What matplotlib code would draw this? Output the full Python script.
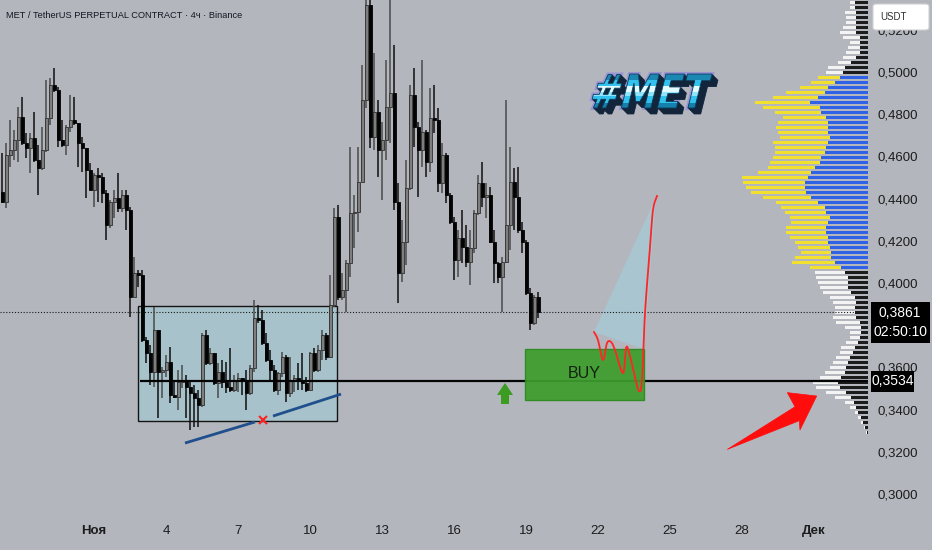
import numpy as np
import matplotlib
matplotlib.use("Agg")
import matplotlib.pyplot as plt
from matplotlib.patches import Rectangle, Polygon, FancyBboxPatch, PathPatch
from matplotlib.textpath import TextPath
from matplotlib.font_manager import FontProperties
from matplotlib.transforms import Affine2D, IdentityTransform, blended_transform_factory

# ---------------- data ----------------
title = "MET / TetherUS PERPETUAL CONTRACT · 4ч · Binance"
first_candle_hour = -92      # hours relative to 1 Nov 00:00
candle_step_h = 4
first_open = 0.4431
closes = [0.4384, 0.4606, 0.4630, 0.4677, 0.4786, 0.4663, 0.4639, 0.4687, 0.4583, 0.4545,
          0.4630, 0.4782, 0.4938, 0.4914, 0.4677, 0.4654, 0.4739, 0.4772, 0.4758, 0.4663,
          0.4639, 0.4535, 0.4440, 0.4511, 0.4502, 0.4426, 0.4274, 0.4384, 0.4402, 0.4355,
          0.4417, 0.4346, 0.3933, 0.4047, 0.4037, 0.3729, 0.3668, 0.3578, 0.3777, 0.3578,
          0.3587, 0.3625, 0.3469, 0.3459, 0.3530, 0.3540, 0.3507, 0.3478, 0.3454, 0.3421,
          0.3753, 0.3620, 0.3668, 0.3526, 0.3578, 0.3530, 0.3507, 0.3492, 0.3540, 0.3549,
          0.3540, 0.3478, 0.3597, 0.3834, 0.3824, 0.3715, 0.3635, 0.3587, 0.3492, 0.3573,
          0.3649, 0.3478, 0.3540, 0.3549, 0.3540, 0.3526, 0.3492, 0.3668, 0.3587, 0.3682,
          0.3753, 0.3649, 0.3895, 0.4312, 0.3933, 0.3966, 0.4094, 0.4331, 0.4336, 0.4478,
          0.4867, 0.5317, 0.4692, 0.4810, 0.4630, 0.4677, 0.4834, 0.4900, 0.4384, 0.4047,
          0.4194, 0.4450, 0.4891, 0.4739, 0.4630, 0.4715, 0.4573, 0.4782, 0.4772, 0.4474,
          0.4606, 0.4417, 0.4289, 0.4109, 0.4213, 0.4170, 0.4099, 0.4165, 0.4331, 0.4474,
          0.4407, 0.4417, 0.4194, 0.4094, 0.4028, 0.4099, 0.4274, 0.4478, 0.4407, 0.4251,
          0.4194, 0.3952, 0.3810, 0.3933, 0.3861]
highs = [0.4616, 0.4663, 0.4772, 0.4725, 0.4834, 0.4881, 0.4711, 0.4711, 0.4810, 0.4654,
         0.4739, 0.4962, 0.4971, 0.5019, 0.4929, 0.4772, 0.4748, 0.4891, 0.4881, 0.4758,
         0.4692, 0.4639, 0.4568, 0.4521, 0.4545, 0.4521, 0.4440, 0.4393, 0.4440, 0.4521,
         0.4440, 0.4440, 0.4360, 0.4123, 0.4061, 0.4061, 0.3744, 0.3706, 0.3886, 0.3777,
         0.3601, 0.3658, 0.3696, 0.3540, 0.3587, 0.3611, 0.3563, 0.3540, 0.3516, 0.3492,
         0.3763, 0.3777, 0.3691, 0.3668, 0.3620, 0.3635, 0.3625, 0.3691, 0.3563, 0.3573,
         0.3549, 0.3587, 0.3611, 0.3919, 0.3895, 0.3872, 0.3763, 0.3682, 0.3611, 0.3578,
         0.3673, 0.3658, 0.3649, 0.3563, 0.3620, 0.3668, 0.3554, 0.3673, 0.3691, 0.3706,
         0.3777, 0.3763, 0.4037, 0.4355, 0.4369, 0.4047, 0.4109, 0.4644, 0.4417, 0.4644,
         0.5033, 0.5483, 0.5436, 0.5090, 0.4867, 0.4763, 0.5057, 0.5388, 0.5128, 0.4474,
         0.4298, 0.4583, 0.4938, 0.5019, 0.4763, 0.5057, 0.4725, 0.4924, 0.4938, 0.4829,
         0.4663, 0.4616, 0.4426, 0.4312, 0.4251, 0.4346, 0.4274, 0.4251, 0.4346, 0.4511,
         0.4573, 0.4474, 0.4455, 0.4251, 0.4099, 0.4123, 0.4867, 0.4644, 0.4545, 0.4549,
         0.4289, 0.4203, 0.3976, 0.3943, 0.3957]
lows = [0.4379, 0.4355, 0.4549, 0.4583, 0.4573, 0.4654, 0.4592, 0.4521, 0.4573, 0.4417,
        0.4535, 0.4621, 0.4748, 0.4905, 0.4644, 0.4644, 0.4606, 0.4715, 0.4748, 0.4549,
        0.4526, 0.4402, 0.4440, 0.4360, 0.4384, 0.4379, 0.4203, 0.4260, 0.4308, 0.4336,
        0.4336, 0.4251, 0.3838, 0.3933, 0.3981, 0.3720, 0.3620, 0.3516, 0.3507, 0.3360,
        0.3454, 0.3554, 0.3431, 0.3454, 0.3398, 0.3502, 0.3360, 0.3303, 0.3317, 0.3317,
        0.3412, 0.3611, 0.3611, 0.3516, 0.3454, 0.3502, 0.3478, 0.3483, 0.3483, 0.3483,
        0.3469, 0.3398, 0.3469, 0.3578, 0.3810, 0.3706, 0.3625, 0.3540, 0.3483, 0.3469,
        0.3554, 0.3436, 0.3459, 0.3483, 0.3492, 0.3492, 0.3483, 0.3507, 0.3578, 0.3578,
        0.3635, 0.3635, 0.3644, 0.3886, 0.3919, 0.3919, 0.3862, 0.4028, 0.4165, 0.4241,
        0.4478, 0.4829, 0.4639, 0.4630, 0.4502, 0.4393, 0.4583, 0.4663, 0.4346, 0.3905,
        0.4004, 0.4085, 0.4440, 0.4644, 0.4407, 0.4549, 0.4502, 0.4526, 0.4711, 0.4431,
        0.4426, 0.4379, 0.4279, 0.4014, 0.4028, 0.4094, 0.4075, 0.3990, 0.4142, 0.4322,
        0.4360, 0.4308, 0.4189, 0.4000, 0.4000, 0.3862, 0.4094, 0.4156, 0.4251, 0.4237,
        0.4142, 0.3943, 0.3777, 0.3800, 0.3834]

last_price = 0.3861
countdown = "02:50:10"
support_level = 0.3534

x_tick_hours = [0, 72, 144, 216, 288, 360, 432, 504, 576, 648, 720]
x_tick_labels = ["Ноя", "4", "7", "10", "13", "16", "19", "22", "25", "28", "Дек"]
y_ticks = [0.30, 0.32, 0.34, 0.36, 0.38, 0.40, 0.42, 0.44, 0.46, 0.48, 0.50, 0.52]
y_hidden = [0.38]   # tick label fully covered by the last-price badge

# volume profile (rows from top price downward)
profile_top = 0.5329
profile_step = 0.00237
profile_total = [18, 18, 23, 22, 22, 25, 28, 25, 18, 20,
                 22, 25, 30, 40, 42, 50, 57, 68, 82, 95,
                 113, 105, 93, 85, 90, 92, 90, 88, 95, 93,
                 93, 95, 98, 100, 110, 126, 125, 122, 117, 105,
                 92, 87, 83, 78, 77, 82, 82, 78, 73, 70,
                 67, 73, 76, 58, 53, 52, 50, 48, 45, 38,
                 35, 33, 33, 35, 32, 23, 18, 18, 22, 27,
                 28, 32, 35, 38, 43, 48, 55, 52, 42, 33,
                 23, 18, 13, 10, 7, 4, 2]
profile_inner = [13, 13, 12, 12, 12, 12, 12, 8, 8, 8,
                 8, 12, 17, 23, 25, 28, 33, 40, 43, 50,
                 58, 48, 47, 42, 40, 40, 40, 38, 40, 42,
                 43, 47, 48, 53, 57, 60, 63, 63, 62, 57,
                 50, 43, 42, 38, 40, 42, 42, 40, 40, 38,
                 37, 37, 33, 27, 23, 20, 20, 20, 17, 13,
                 12, 13, 13, 12, 8, 7, 7, 8, 10, 13,
                 15, 18, 20, 22, 23, 27, 30, 28, 22, 17,
                 14, 12, 10, 7, 5, 3, 1]
value_area = (0.4071, 0.4976)

# ---------------- style ----------------
plt.rcParams["font.family"] = ["Liberation Sans", "DejaVu Sans"]

BG = "#b4b6be"
W_PX, H_PX = 932, 550
fig = plt.figure(figsize=(W_PX / 100, H_PX / 100), dpi=100, facecolor=BG)
ax = fig.add_axes([0, 35 / H_PX, 868 / W_PX, 515 / H_PX])
ax.set_facecolor(BG)
for s in ax.spines.values():
    s.set_visible(False)
XMIN, XMAX = -94, 774
YMIN, YMAX = 0.2900, 0.5341
PX = (YMAX - YMIN) / 515.0   # price per pixel (layout helper)

# ---------------- candles ----------------
c = np.array(closes)
o = np.concatenate([[first_open], c[:-1]])
h = np.maximum(np.array(highs), np.maximum(o, c))
l = np.minimum(np.array(lows), np.minimum(o, c))
t = first_candle_hour + candle_step_h * np.arange(len(c))
up = c >= o
ax.vlines(t[up], l[up], h[up], color="#4a4a4a", lw=1.1, zorder=3)
ax.vlines(t[~up], l[~up], h[~up], color="#101010", lw=1.1, zorder=3)
bb = np.minimum(o, c)
bh = np.maximum(np.abs(c - o), 0.0005)
ax.bar(t[up], bh[up], bottom=bb[up], width=3.0, color="#7e7e7e",
       edgecolor="#303030", lw=0.6, zorder=4)
ax.bar(t[~up], bh[~up], bottom=bb[~up], width=3.0, color="#030303",
       edgecolor="#030303", lw=0.6, zorder=4)

# ---------------- drawings ----------------
ax.add_patch(Rectangle((44, 0.3345), 199, 0.3891 - 0.3345, fc="#a7c2ca",
                       ec="#151515", lw=1.0, zorder=1.5))
ax.add_patch(Polygon([(500, 0.3767), (562, 0.4407), (550, 0.3687)],
                     closed=True, fc="#a9c5d0", ec="none", zorder=1.4))
ax.axhline(last_price, color="#1a1a1a", lw=0.8, ls=(0, (1, 1.6)), zorder=2.6)
ax.hlines(support_level, 46, XMAX, color="#050505", lw=1.6, zorder=5)

ax.plot([91, 161], [0.3241, 0.3341], color="#1f4f8c", lw=2, solid_capstyle="butt", zorder=6)
ax.plot([179, 247], [0.3369, 0.3473], color="#1f4f8c", lw=2, solid_capstyle="butt", zorder=6)
ax.plot([169], [0.3350], marker="x", color="#ff2020", ms=6, mew=1.5, zorder=7)

ax.add_patch(Rectangle((431, 0.3445), 119, 0.3687 - 0.3445, fc="#3d9e2c",
                       ec="#2c8a1f", lw=1.0, alpha=0.93, zorder=6))
ax.text(490, 0.3573, "BUY", ha="center", va="center", fontsize=11.5,
        color="#13210f", zorder=7)
ax.add_patch(Polygon([(403, 0.3469), (411, 0.3526), (419, 0.3469), (415, 0.3469),
                      (415, 0.3426), (407, 0.3426), (407, 0.3469)],
                     closed=True, fc="#3c9c22", ec="none", zorder=6))


def catmull(pts, n=14):
    P = np.array(pts, float)
    P = np.vstack([P[0], P, P[-1]])
    out = []
    for i in range(1, len(P) - 2):
        p0, p1, p2, p3 = P[i - 1], P[i], P[i + 1], P[i + 2]
        for s in np.linspace(0, 1, n, endpoint=False):
            out.append(0.5 * ((2 * p1) + (-p0 + p2) * s + (2 * p0 - 5 * p1 + 4 * p2 - p3) * s ** 2
                              + (-p0 + 3 * p1 - 3 * p2 + p3) * s ** 3))
    out.append(P[-2])
    return np.array(out)


curve_pts = [(500, 0.3767), (504, 0.3729), (509, 0.3635), (513, 0.3715), (517, 0.3720),
             (521, 0.3682), (529, 0.3573), (532, 0.3691), (535, 0.3672), (541, 0.3554),
             (545, 0.3488), (548, 0.3540), (551, 0.3857), (556, 0.4170), (559, 0.4346),
             (563, 0.4412)]
cv = catmull(curve_pts)
ax.plot(cv[:, 0], cv[:, 1], color="#ff2626", lw=1.3, zorder=8)

ax.add_patch(Polygon([(633.3, 0.3211), (701, 0.3413), (693.3, 0.3480), (722.7, 0.3464),
                      (706, 0.3303), (705.3, 0.3347)],
                     closed=True, fc="#ff0d0d", ec="#ff0d0d", lw=0.5, zorder=9))

# ---------------- volume profile ----------------
prices = profile_top - profile_step * np.arange(len(profile_total))
tot = np.array(profile_total, float)
inn = np.array(profile_inner, float)
wscale = 0.145 * (XMAX - XMIN) / tot.max()
in_va = (prices >= value_area[0]) & (prices <= value_area[1])
outer_c = np.where(in_va, "#f2e02e", "#f3f3f3")
inner_c = np.where(in_va, "#2f62e6", "#1c1c1c")
ax.barh(prices, tot * wscale, left=XMAX - tot * wscale, height=profile_step * 0.72,
        color=outer_c, zorder=2.2)
ax.barh(prices, inn * wscale, left=XMAX - inn * wscale, height=profile_step * 0.72,
        color=inner_c, zorder=2.3)

# ---------------- axes ----------------
ax.set_xlim(XMIN, XMAX)
ax.set_ylim(YMIN, YMAX)
ax.yaxis.tick_right()
ax.set_yticks(y_ticks, ["" if v in y_hidden else f"{v:.4f}".replace(".", ",") for v in y_ticks])
ax.tick_params(axis="y", length=0, pad=6.5, labelsize=9.5, labelcolor="#1c1c1c")
ax.set_xticks(x_tick_hours, x_tick_labels)
ax.tick_params(axis="x", length=0, pad=7, labelsize=9.5, labelcolor="#1c1c1c")
xl = ax.get_xticklabels()
xl[0].set_fontweight("bold")
xl[-1].set_fontweight("bold")

tr = blended_transform_factory(ax.transAxes, ax.transData)
ax.add_patch(Rectangle((871 / 868, last_price - 31 * PX), 59 / 868, 41 * PX,
                       transform=tr, fc="#000000", ec="none", clip_on=False, zorder=10))
ax.text(900 / 868, last_price - 1 * PX, f"{last_price:.4f}".replace(".", ","),
        transform=tr, ha="center", va="center", color="white", fontsize=10, clip_on=False, zorder=11)
ax.text(900 / 868, last_price - 20 * PX, countdown, transform=tr, ha="center",
        va="center", color="white", fontsize=10, clip_on=False, zorder=11)
ax.add_patch(Rectangle((871 / 868, support_level - 10.5 * PX), 43 / 868, 21 * PX,
                       transform=tr, fc="#000000", ec="none", clip_on=False, zorder=10))
ax.text(892.5 / 868, support_level, f"{support_level:.4f}".replace(".", ","),
        transform=tr, ha="center", va="center", color="white", fontsize=10,
        clip_on=False, zorder=11)

# USDT box
fig.add_artist(FancyBboxPatch((873 / W_PX, 1 - 30 / H_PX), 56 / W_PX, 26 / H_PX,
                              boxstyle="round,pad=0,rounding_size=0.004",
                              transform=fig.transFigure, fc="white", ec="#d0d0d0", lw=0.8))
fig.text(880 / W_PX, 1 - 17 / H_PX, "USDT", ha="left", va="center", fontsize=7,
         color="#333333")

# title
fig.text(6 / W_PX, 1 - 16 / H_PX, title, ha="left", va="center", fontsize=6.7,
         color="#131722")

# ---------------- #MET logo ----------------
fp = FontProperties(family="DejaVu Sans", weight="bold")
tp = TextPath((0, 0), "#MET", size=100, prop=fp)
ext = tp.get_extents()
LW, LH = 122, 34
skew = 14
shear = LH * np.tan(np.radians(skew))
lx0, ly0 = 590, H_PX - 108
T = (Affine2D().translate(-ext.x0, -ext.y0)
     .scale((LW - shear) / ext.width, LH / ext.height)
     .skew_deg(skew, 0)
     .translate(lx0, ly0))
lpath = T.transform_path(tp)
ID = IdentityTransform()
fig.add_artist(PathPatch(lpath, transform=ID, fc="none", ec="#7a6cf0", lw=3,
                         alpha=0.45, zorder=20))
for k in range(1, 8):
    sp = Affine2D().translate(k * 0.85, -k * 0.85).transform_path(lpath)
    fig.add_artist(PathPatch(sp, transform=ID, fc="#13253a", ec="#13253a", lw=0.6, zorder=21))
main = PathPatch(lpath, transform=ID, fc="#33c2ee", ec="none", zorder=22)
fig.add_artist(main)
for (yb, hh, col) in [(ly0 + 28, 7, "#1b88b4"), (ly0 + 16, 6, "#e2fbff"),
                      (ly0 + 12, 4, "#8fe4fa"), (ly0 + 0, 5, "#1680ad")]:
    r = Rectangle((lx0 - 5, yb), LW + 15, hh, transform=ID, fc=col, ec="none", zorder=23)
    fig.add_artist(r)
    r.set_clip_path(main)
fig.add_artist(PathPatch(lpath, transform=ID, fc="none", ec="#0c3a58", lw=0.6, zorder=24))

fig.savefig("out.png", dpi=100, facecolor=BG)
